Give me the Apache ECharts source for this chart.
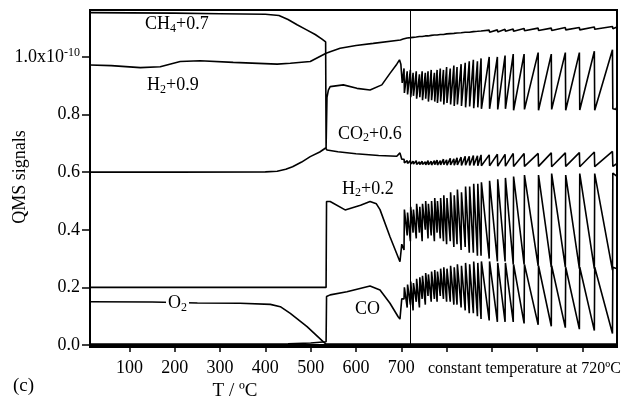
<!DOCTYPE html>
<html>
<head>
<meta charset="utf-8">
<script src="https://cdn.jsdelivr.net/npm/echarts@6/dist/echarts.min.js"></script>
<style>
html,body{margin:0;padding:0;background:#fff;}
#chart{width:621px;height:399px;}
</style>
</head>
<body>
<div id="chart"></div>
<script>
// ---------- data ----------
const xTickValues = [100, 200, 300, 400, 500, 600, 700, 800, 900, 1000, 1100];
const xLabelValues = [100, 200, 300, 400, 500, 600, 700];
const yTickValues = [0, 0.2, 0.4, 0.6, 0.8, 1.0];
const holdT = 720;

// smooth parts before the oscillations: [T, value]
const ch4Pre = [[13,1.154],[100,1.153],[200,1.152],[300,1.150],[400,1.148],[430,1.144],[450,1.130],[470,1.112],[490,1.095],[510,1.078],[525,1.062],[533,1.052],[534,0.684],[536,0.860],[539,0.885],[543,0.897],[572,0.903],[602,0.891],[631,0.885],[657,0.903],[675,0.943],[690,0.975],[696,0.990],[699,0.975],[702,0.910]];
const h2hiPre = [[13,0.972],[60,0.970],[124,0.963],[168,0.966],[212,0.984],[256,0.987],[329,0.981],[426,0.975],[455,0.978],[499,0.984],[534,1.013],[543,1.018],[565,1.030],[600,1.040],[638,1.047],[698,1.059],[704,1.062]];
const co2Pre = [[13,0.600],[200,0.600],[400,0.601],[426,0.603],[445,0.610],[460,0.619],[480,0.635],[499,0.654],[520,0.670],[533,0.684],[536,0.677],[560,0.671],[600,0.664],[650,0.658],[690,0.655],[697,0.667],[701,0.645]];
const h2loPre = [[13,0.200],[534,0.200],[535,0.498],[543,0.498],[576,0.469],[610,0.485],[631,0.498],[645,0.490],[653,0.470],[675,0.376],[697,0.289],[701,0.350]];
const coPre = [[13,0.003],[300,0.003],[450,0.004],[500,0.007],[534,0.011],[535,0.168],[543,0.174],[580,0.185],[631,0.205],[653,0.191],[675,0.145],[693,0.098],[697,0.090],[701,0.160]];
const o2Data = [[13,0.150],[150,0.149],[250,0.146],[344,0.145],[411,0.141],[433,0.133],[455,0.110],[492,0.064],[528,0.011],[534,0.003],[700,0.003],[1176,0.003]];

// oscillation events (T of each ignition)
const eventT = [706,713,720,726,733,740,746,753,759,766,773,779,786,793,800,808,816,823,832,841,850,859,868,876,894,912,929,947,971,1002,1031,1062,1093,1126,1166];
const ch4Peak = [0.96,0.95,0.955,0.945,0.95,0.94,0.95,0.945,0.95,0.955,0.945,0.955,0.96,0.955,0.965,0.96,0.97,0.965,0.975,0.98,0.985,0.99,0.985,0.995,1.0,1.0,1.005,1.01,1.01,1.015,1.01,1.015,1.015,1.02,1.025];
const ch4Trough = [0.875,0.87,0.86,0.865,0.855,0.86,0.85,0.855,0.845,0.85,0.845,0.84,0.845,0.835,0.84,0.835,0.83,0.835,0.83,0.825,0.828,0.822,0.825,0.82,0.82,0.818,0.82,0.815,0.818,0.815,0.818,0.815,0.816,0.815,0.82];
const h2hiPeak = [1.064,1.066,1.067,1.068,1.069,1.071,1.071,1.073,1.073,1.075,1.076,1.076,1.078,1.078,1.080,1.081,1.082,1.083,1.084,1.086,1.086,1.088,1.089,1.090,1.093,1.094,1.096,1.097,1.099,1.100,1.100,1.102,1.102,1.104,1.106];
const h2hiTrough = [1.060,1.062,1.063,1.064,1.065,1.067,1.067,1.069,1.069,1.071,1.072,1.072,1.074,1.074,1.075,1.076,1.077,1.078,1.079,1.080,1.080,1.082,1.083,1.084,1.086,1.087,1.089,1.089,1.091,1.092,1.092,1.094,1.094,1.096,1.098];
const co2Peak = [0.645,0.64,0.64,0.638,0.64,0.636,0.638,0.636,0.64,0.638,0.64,0.642,0.64,0.645,0.643,0.648,0.646,0.65,0.652,0.655,0.655,0.658,0.657,0.66,0.66,0.662,0.662,0.665,0.665,0.665,0.667,0.667,0.668,0.67,0.672];
const co2Trough = [0.632,0.63,0.628,0.628,0.627,0.626,0.627,0.625,0.626,0.625,0.626,0.625,0.625,0.626,0.624,0.625,0.624,0.625,0.623,0.624,0.623,0.623,0.622,0.622,0.622,0.621,0.621,0.62,0.62,0.62,0.619,0.62,0.619,0.619,0.62];
const h2loTrough = [0.33,0.38,0.36,0.39,0.37,0.39,0.36,0.40,0.37,0.38,0.36,0.39,0.37,0.36,0.35,0.36,0.34,0.35,0.33,0.34,0.32,0.32,0.31,0.31,0.30,0.29,0.29,0.28,0.28,0.275,0.27,0.27,0.265,0.265,0.26];
const h2loPeak = [0.47,0.46,0.48,0.47,0.49,0.48,0.49,0.50,0.49,0.50,0.51,0.50,0.51,0.52,0.51,0.53,0.52,0.54,0.53,0.55,0.55,0.56,0.56,0.565,0.57,0.575,0.58,0.585,0.59,0.59,0.595,0.59,0.595,0.595,0.597];
const coTrough = [0.16,0.13,0.14,0.12,0.15,0.13,0.16,0.14,0.17,0.15,0.16,0.15,0.17,0.16,0.15,0.15,0.14,0.14,0.13,0.12,0.11,0.11,0.10,0.09,0.085,0.08,0.08,0.08,0.075,0.07,0.065,0.06,0.055,0.05,0.04];
const coPeak = [0.20,0.21,0.22,0.215,0.23,0.235,0.24,0.25,0.245,0.255,0.26,0.255,0.265,0.27,0.265,0.275,0.27,0.28,0.275,0.285,0.28,0.29,0.285,0.29,0.29,0.285,0.285,0.28,0.28,0.275,0.275,0.27,0.27,0.27,0.27];

// last readings at the right edge
const ch4Tail = [[1174,0.818],[1176,0.83]];
const h2hiTail = [[1176,1.104]];
const co2Tail = [[1176,0.63]];
const h2loTail = [[1176,0.585]];
const coTail = [[1176,0.265]];

// ---------- build series tables ----------
const STEP = 0.8;
function withEvents(pre, before, after, tail) {
  const d = pre.slice();
  eventT.forEach((t, i) => { d.push([t, before[i]]); d.push([t + STEP, after[i]]); });
  return d.concat(tail);
}
const ch4Data = withEvents(ch4Pre, ch4Peak, ch4Trough, ch4Tail);
const h2hiData = withEvents(h2hiPre, h2hiPeak, h2hiTrough, h2hiTail);
const co2Data = withEvents(co2Pre, co2Peak, co2Trough, co2Tail);
const h2loData = withEvents(h2loPre, h2loTrough, h2loPeak, h2loTail);
const coData = withEvents(coPre, coTrough, coPeak, coTail);

const FONT = 'Liberation Serif';
const lineStyle = { color: '#000', width: 1.6 };
function mk(name, data, extra) {
  return Object.assign({
    name, type: 'line', data, showSymbol: false, symbol: 'none',
    lineStyle, silent: true, animation: false, z: 3
  }, extra || {});
}

const sub = { fontFamily: FONT, fontSize: 12, lineHeight: 8, verticalAlign: 'bottom', fill: '#000' };
const nrm = { fontFamily: FONT, fontSize: 18, lineHeight: 20, verticalAlign: 'middle', fill: '#000' };
function label(x, y, text, bg) {
  return {
    type: 'text', x, y, z: 10,
    style: Object.assign({
      text, rich: { n: nrm, s: sub }, verticalAlign: 'middle', align: 'left',
      font: '18px ' + FONT, fill: '#000'
    }, bg ? { backgroundColor: '#fff', padding: [0, 2, 0, 2] } : {})
  };
}

const chart = echarts.init(document.getElementById('chart'), null, { renderer: 'canvas' });
chart.setOption({
  animation: false,
  backgroundColor: '#fff',
  grid: { left: 90, right: 4, top: 10, bottom: 52, show: true, borderColor: '#000', borderWidth: 2 },
  xAxis: {
    type: 'value', min: 13, max: 1176,
    axisLine: { show: true, lineStyle: { color: '#000', width: 2 } },
    axisTick: { show: true, inside: false, length: 7, customValues: xTickValues, lineStyle: { color: '#000', width: 1.5 } },
    axisLabel: { customValues: xLabelValues, color: '#000', fontFamily: FONT, fontSize: 18, margin: 12 },
    splitLine: { show: false }
  },
  yAxis: {
    type: 'value', min: -0.007, max: 1.163,
    axisLine: { show: true, lineStyle: { color: '#000', width: 2 } },
    axisTick: { show: true, inside: false, length: 8, customValues: yTickValues, lineStyle: { color: '#000', width: 1.5 } },
    axisLabel: {
      customValues: yTickValues, color: '#000', fontFamily: FONT, fontSize: 18, margin: 10,
      formatter: v => Math.abs(v - 1) < 1e-6 ? '{n|1.0x10}{p|-10}' : v.toFixed(1),
      rich: {
        n: { fontFamily: FONT, fontSize: 18, lineHeight: 20, verticalAlign: 'middle', color: '#000' },
        p: { fontFamily: FONT, fontSize: 12, lineHeight: 12, verticalAlign: 'top', color: '#000' }
      }
    },
    splitLine: { show: false }
  },
  series: [
    mk('CH4+0.7', ch4Data),
    mk('H2+0.9', h2hiData),
    mk('CO2+0.6', co2Data),
    mk('H2+0.2', h2loData),
    mk('CO', coData),
    mk('O2', o2Data, {
      markLine: {
        silent: true, symbol: 'none', animation: false,
        label: { show: false },
        lineStyle: { color: '#000', width: 1, type: 'solid' },
        data: [{ xAxis: holdT }]
      }
    })
  ],
  graphic: [
    label(145, 24.7, '{n|CH}{s|4}{n|+0.7}'),
    label(147, 85.7, '{n|H}{s|2}{n|+0.9}'),
    label(338, 134, '{n|CO}{s|2}{n|+0.6}'),
    label(342, 189, '{n|H}{s|2}{n|+0.2}'),
    label(166, 303.5, '{n|O}{s|2}', true),
    label(355, 309, '{n|CO}'),
    { type: 'text', x: 13, y: 386, style: { text: '(c)', font: '19px ' + FONT, fill: '#000', verticalAlign: 'middle', align: 'left' } },
    { type: 'text', x: 235, y: 391, style: { text: 'T / ºC', font: '19px ' + FONT, fill: '#000', verticalAlign: 'middle', align: 'center' } },
    { type: 'text', x: 428, y: 369, style: { text: 'constant temperature at 720ºC', font: '16px ' + FONT, fill: '#000', verticalAlign: 'middle', align: 'left' } },
    { type: 'text', x: 20, y: 177, rotation: Math.PI / 2, style: { text: 'QMS signals', font: '18px ' + FONT, fill: '#000', verticalAlign: 'middle', align: 'center' } }
  ]
});
</script>
</body>
</html>
